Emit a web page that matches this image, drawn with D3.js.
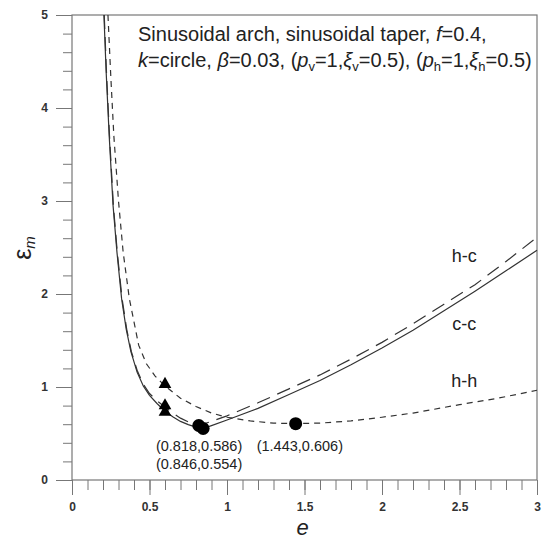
<!DOCTYPE html>
<html>
<head>
<meta charset="utf-8">
<script src="https://cdn.jsdelivr.net/npm/d3@7.9.0/dist/d3.min.js"></script>
<style>
  body { margin: 0; background: #fff; }
  svg { display: block; font-family: "Liberation Sans", Arial, sans-serif; }
  .tick text { font-size: 12px; font-weight: bold; fill: #333; }
</style>
</head>
<body>
<svg id="chart" width="548" height="542"></svg>
<script>
// curve data: [e, eps_m]
const ccCurve = [
  [0.206, 5.0], [0.22, 4.4], [0.24, 3.7], [0.265, 2.95], [0.29, 2.45], [0.32, 1.95],
  [0.35, 1.62], [0.38, 1.38], [0.42, 1.16], [0.46, 1.01], [0.5, 0.91], [0.55, 0.82],
  [0.6, 0.74], [0.65, 0.68], [0.7, 0.63], [0.75, 0.595], [0.8, 0.568], [0.846, 0.554],
  [0.9, 0.585], [1.0, 0.645], [1.2, 0.77], [1.4, 0.92], [1.6, 1.07], [1.8, 1.24],
  [2.0, 1.42], [2.2, 1.61], [2.4, 1.82], [2.6, 2.03], [2.8, 2.25], [3.0, 2.47]
];
const hcCurve = [
  [0.208, 5.0], [0.222, 4.4], [0.242, 3.7], [0.267, 2.95], [0.292, 2.45], [0.323, 1.95],
  [0.353, 1.62], [0.383, 1.38], [0.42, 1.18], [0.46, 1.03], [0.5, 0.93], [0.55, 0.85],
  [0.6, 0.785], [0.65, 0.72], [0.7, 0.665], [0.75, 0.625], [0.818, 0.586],
  [0.9, 0.63], [1.0, 0.69], [1.2, 0.83], [1.4, 0.98], [1.6, 1.13], [1.8, 1.3],
  [2.0, 1.48], [2.2, 1.68], [2.4, 1.89], [2.6, 2.1], [2.8, 2.35], [3.0, 2.61]
];
const hhCurve = [
  [0.232, 5.0], [0.25, 4.35], [0.27, 3.7], [0.3, 3.0], [0.33, 2.45], [0.37, 1.95],
  [0.43, 1.45], [0.48, 1.25], [0.535, 1.12], [0.6, 1.01], [0.7, 0.88], [0.8, 0.79],
  [0.9, 0.72], [1.0, 0.675], [1.15, 0.635], [1.3, 0.612], [1.443, 0.606], [1.6, 0.612],
  [1.8, 0.635], [2.0, 0.675], [2.2, 0.72], [2.5, 0.81], [2.75, 0.88], [3.0, 0.965]
];
const minPoints = [[0.818, 0.586], [0.846, 0.554], [1.443, 0.606]];
const triPoints = [[0.6, 1.03], [0.6, 0.8], [0.6, 0.73]];
const curveLabels = [
  { text: 'h-c', e: 2.53, v: 2.4 },
  { text: 'c-c', e: 2.53, v: 1.66 },
  { text: 'h-h', e: 2.53, v: 1.05 }
];
const pointLabels = [
  { text: '(0.818,0.586)', e: 0.82, v: 0.355 },
  { text: '(0.846,0.554)', e: 0.82, v: 0.16 },
  { text: '(1.443,0.606)', e: 1.47, v: 0.355 }
];
const xTicks = [0, 0.5, 1, 1.5, 2, 2.5, 3];
const yTicks = [0, 1, 2, 3, 4, 5];

const svg = d3.select('#chart');
const mLeft = 72, mRight = 537, mTop = 15, mBottom = 480;

const x = d3.scaleLinear().domain([0, 3]).range([mLeft, mRight]);
const y = d3.scaleLinear().domain([0, 5]).range([mBottom, mTop]);

const axisColor = '#777';

// minor ticks
const xMinor = d3.range(0, 3.001, 0.1).map(d => +d.toFixed(1));
const yMinor = d3.range(0, 5.001, 0.2).map(d => +d.toFixed(1));

svg.append('g')
  .attr('transform', `translate(0,${mBottom})`)
  .call(d3.axisBottom(x).tickValues(xMinor).tickSize(10).tickFormat(''))
  .call(g => g.select('.domain').remove())
  .selectAll('line').attr('stroke', axisColor);

svg.append('g')
  .attr('transform', `translate(${mLeft},0)`)
  .call(d3.axisLeft(y).tickValues(yMinor).tickSize(9).tickFormat(''))
  .call(g => g.select('.domain').remove())
  .selectAll('line').attr('stroke', axisColor);

// major ticks with labels
const xAxis = svg.append('g')
  .attr('transform', `translate(0,${mBottom})`)
  .call(d3.axisBottom(x).tickValues(xTicks).tickSize(15).tickPadding(7).tickFormat(d3.format('')));
xAxis.select('.domain').remove();
xAxis.selectAll('line').attr('stroke', axisColor);

const yAxis = svg.append('g')
  .attr('transform', `translate(${mLeft},0)`)
  .call(d3.axisLeft(y).tickValues(yTicks).tickSize(16).tickPadding(8).tickFormat(d3.format('')));
yAxis.select('.domain').remove();
yAxis.selectAll('line').attr('stroke', axisColor);

// frame
svg.append('rect')
  .attr('x', mLeft).attr('y', mTop)
  .attr('width', mRight - mLeft).attr('height', mBottom - mTop)
  .attr('fill', 'none').attr('stroke', axisColor).attr('stroke-width', 1.2);

// curves
const line = d3.line().x(d => x(d[0])).y(d => y(d[1]));
const lineColor = '#333';

svg.append('path').datum(ccCurve)
  .attr('d', line).attr('fill', 'none').attr('stroke', lineColor).attr('stroke-width', 1.2);
svg.append('path').datum(hcCurve)
  .attr('d', line).attr('fill', 'none').attr('stroke', lineColor).attr('stroke-width', 1.2)
  .attr('stroke-dasharray', '14,8');
svg.append('path').datum(hhCurve)
  .attr('d', line).attr('fill', 'none').attr('stroke', lineColor).attr('stroke-width', 1.2)
  .attr('stroke-dasharray', '6,5');

// markers
svg.selectAll('.tri').data(triPoints).join('path')
  .attr('class', 'tri')
  .attr('transform', d => `translate(${x(d[0])},${y(d[1])})`)
  .attr('d', d3.symbol().type(d3.symbolTriangle).size(70))
  .attr('fill', '#000');

svg.selectAll('.dot').data(minPoints).join('circle')
  .attr('class', 'dot')
  .attr('cx', d => x(d[0])).attr('cy', d => y(d[1]))
  .attr('r', 6.5).attr('fill', '#000');

// labels
svg.selectAll('.clab').data(curveLabels).join('text')
  .attr('class', 'clab')
  .attr('x', d => x(d.e)).attr('y', d => y(d.v))
  .attr('text-anchor', 'middle').attr('dominant-baseline', 'middle')
  .attr('font-size', 18).attr('fill', '#222')
  .text(d => d.text);

svg.selectAll('.plab').data(pointLabels).join('text')
  .attr('class', 'plab')
  .attr('x', d => x(d.e)).attr('y', d => y(d.v))
  .attr('text-anchor', 'middle').attr('dominant-baseline', 'middle')
  .attr('font-size', 14.5).attr('fill', '#222')
  .text(d => d.text);

// title, two lines
const t1 = svg.append('text').attr('font-size', 20).attr('fill', '#222')
  .attr('x', 138).attr('y', 41);
t1.append('tspan').text('Sinusoidal arch, sinusoidal taper, ');
t1.append('tspan').attr('font-style', 'italic').text('f');
t1.append('tspan').text('=0.4,');

const t2 = svg.append('text').attr('font-size', 20).attr('fill', '#222')
  .attr('x', 138).attr('y', 67);
// [text, italic, subscript]
const parts = [
  ['k', 1, 0], ['=circle, ', 0, 0], ['β', 1, 0], ['=0.03, (', 0, 0],
  ['p', 1, 0], ['v', 0, 1], ['=1,', 0, 0], ['ξ', 1, 0], ['v', 0, 1], ['=0.5), (', 0, 0],
  ['p', 1, 0], ['h', 0, 1], ['=1,', 0, 0], ['ξ', 1, 0], ['h', 0, 1], ['=0.5)', 0, 0]
];
let prevSub = 0;
parts.forEach(([txt, it, sub]) => {
  const ts = t2.append('tspan').text(txt);
  if (it) ts.attr('font-style', 'italic');
  if (sub) ts.attr('font-size', 13);
  const dy = sub && !prevSub ? 4 : (!sub && prevSub ? -4 : 0);
  if (dy) ts.attr('dy', dy);
  prevSub = sub;
});

// axis titles
svg.append('text')
  .attr('x', (mLeft + mRight) / 2 - 2).attr('y', 535)
  .attr('text-anchor', 'middle')
  .attr('font-size', 22).attr('font-style', 'italic').attr('fill', '#222')
  .text('e');

const yl = svg.append('text')
  .attr('transform', 'translate(31,248) rotate(-90)')
  .attr('text-anchor', 'middle')
  .attr('fill', '#222');
yl.append('tspan').attr('font-size', 25).text('ε');
yl.append('tspan').attr('font-size', 15).attr('font-style', 'italic').attr('dy', 4).text('m');
</script>
</body>
</html>
